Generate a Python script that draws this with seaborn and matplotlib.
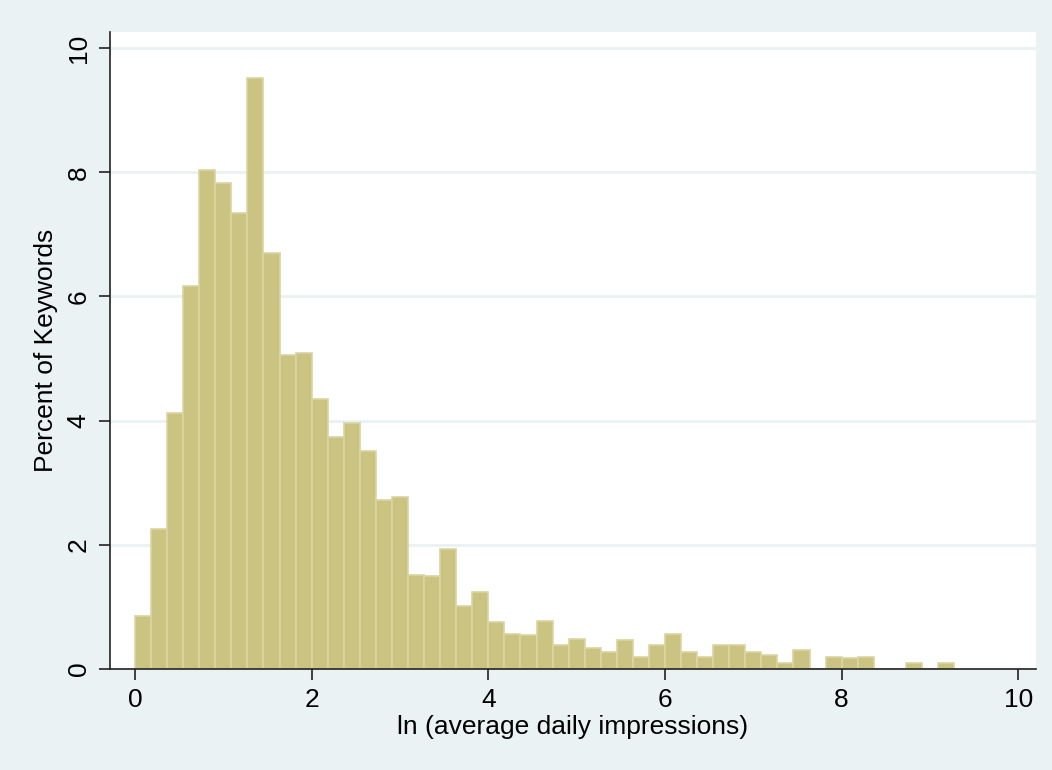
import matplotlib
matplotlib.use("Agg")
import matplotlib.pyplot as plt
import numpy as np
import pandas as pd
import seaborn as sns

# Stata-style histogram: 51 bins of equal width starting at 0
bin_width = 4 / 22
n_bins = 51
percent = [
    0.85, 2.26, 4.12, 6.17, 8.04, 7.83, 7.35, 9.52, 6.70, 5.06,
    5.09, 4.35, 3.74, 3.96, 3.51, 2.72, 2.77, 1.52, 1.50, 1.93,
    1.01, 1.24, 0.75, 0.57, 0.54, 0.78, 0.39, 0.49, 0.34, 0.27,
    0.46, 0.19, 0.39, 0.56, 0.27, 0.19, 0.38, 0.39, 0.28, 0.22,
    0.09, 0.30, 0.00, 0.19, 0.18, 0.20, 0.00, 0.00, 0.10, 0.00,
    0.10,
]
x_ticks = [0, 2, 4, 6, 8, 10]
y_ticks = [0, 2, 4, 6, 8, 10]

edges = [i * bin_width for i in range(n_bins + 1)]
df = pd.DataFrame({"center": [e + bin_width / 2 for e in edges[:-1]], "pct": percent})

bg = "#EAF2F3"
sns.set_style("white")
plt.rcParams["font.family"] = ["Liberation Sans", "DejaVu Sans"]
plt.rcParams["text.color"] = "black"
plt.rcParams["axes.labelcolor"] = "black"
plt.rcParams["xtick.color"] = "black"
plt.rcParams["ytick.color"] = "black"

fig = plt.figure(figsize=(10.52, 7.7), dpi=100, facecolor=bg)
ax = fig.add_axes([110 / 1052, 1 - 669 / 770, 926 / 1052, 637 / 770])
ax.set_facecolor("white")

for y in y_ticks:
    ax.axhline(y, color=bg, lw=2.2, zorder=0)

sns.histplot(data=df, x="center", weights="pct", bins=edges, stat="count",
             color="#CBC381", edgecolor="#DAD5A2", linewidth=1.2, alpha=1,
             ax=ax, zorder=2)

ax.set_xlim(-0.283, 10.2)
ax.set_ylim(0, 10.26)
ax.set_xticks(x_ticks)
ax.set_yticks(y_ticks)
ax.set_xticklabels([str(t) for t in x_ticks], fontsize=19)
ax.set_yticklabels([str(t) for t in y_ticks], fontsize=19, rotation=90, va="center")
ax.tick_params(axis="both", direction="out", length=8, width=1.2, color="#222222",
               labelcolor="black", pad=6, left=True, bottom=True)
ax.set_xlabel("ln (average daily impressions)", fontsize=19, labelpad=2, color="black")
ax.set_ylabel("Percent of Keywords", fontsize=19, labelpad=6, color="black")

for side in ["top", "right"]:
    ax.spines[side].set_visible(False)
for side in ["left", "bottom"]:
    ax.spines[side].set_color("#222222")
    ax.spines[side].set_linewidth(1.2)

fig.savefig("out.png", dpi=100, facecolor=bg)
